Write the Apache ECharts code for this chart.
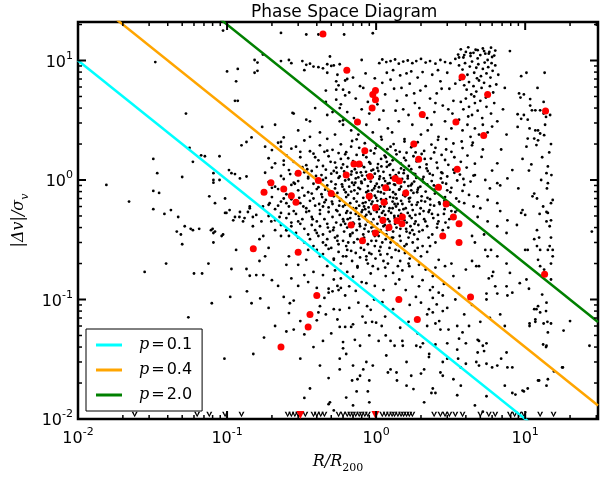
<!DOCTYPE html>
<html><head><meta charset="utf-8">
<script src="https://cdn.jsdelivr.net/npm/echarts@6/dist/echarts.min.js"></script>
<style>html,body{margin:0;padding:0;background:#fff}#c{width:602px;height:479px}</style>
</head><body><div id="c"></div>
<script>
const titleText = 'Phase Space Diagram';
const xName = 'R/R';
const xNameSub = '200';
const xRange = [0.01, 30.8];
const yRange = [0.01, 21];
const majorTicks = [0.01, 0.1, 1, 10];
const pValues = [0.1, 0.4, 2.0];
const pLabels = ['p=0.1', 'p=0.4', 'p=2.0'];

const blackLeft = [[0.033,9.7],[0.053,3.6],[0.056,1.86],[0.071,1.58],[0.059,1.42],[0.089,1.58],[0.032,1.5],[0.034,1.14],[0.05,1.06],[0.081,1.0],[0.081,0.95],[0.0155,0.91],[0.032,0.81],[0.035,0.78],[0.022,0.66],[0.032,0.57],[0.038,0.52],[0.042,0.56],[0.047,0.49],[0.052,0.41],[0.057,0.39],[0.059,0.38],[0.065,0.39],[0.046,0.37],[0.049,0.35],[0.05,0.29],[0.08,0.39],[0.081,0.36],[0.092,0.34],[0.081,0.3],[0.075,0.2],[0.039,0.2],[0.028,0.17],[0.06,0.165],[0.068,0.165],[0.079,0.093],[0.055,0.071],[0.096,0.032],[0.094,17.8],[0.097,0.53],[0.104,0.56],[0.11,0.46],[0.121,0.49],[0.131,0.48],[0.138,0.54],[0.149,0.49],[0.142,0.58],[0.157,0.51],[0.174,0.6],[0.193,0.64],[0.067,1.61],[0.081,1.14],[0.089,1.0],[0.107,1.14],[0.122,1.03],[0.135,1.07],[0.076,0.73],[0.083,0.64],[0.097,0.7],[0.099,0.53],[0.113,0.49],[0.122,0.54],[0.142,0.6],[0.078,0.38],[0.083,0.37],[0.094,0.35],[0.128,0.45],[0.149,0.41],[0.17,0.45],[0.175,0.34],[0.198,0.45],[0.21,0.38],[0.225,0.49],[0.23,0.34],[0.25,0.38],[0.26,0.34],[0.115,0.26],[0.165,0.32],[0.19,0.27],[0.18,0.23],[0.165,0.21],[0.135,0.18],[0.107,0.18],[0.157,0.16],[0.142,0.158],[0.175,0.16],[0.26,0.23],[0.25,0.195],[0.3,0.195],[0.34,0.215],[0.103,1.21],[0.113,1.12]];

const blackUpperLeft = [[0.1,8.1],[0.118,8.5],[0.153,7.9],[0.16,8.2],[0.153,10.1],[0.16,9.6],[0.174,11.2],[0.115,6.7],[0.113,4.6],[0.118,4.6],[0.275,3.64],[0.172,2.78],[0.23,17],[0.34,16.5],[0.41,16.5],[0.61,16.5],[0.95,16.9],[0.23,9.9],[0.26,10.1],[0.27,9.5],[0.32,9.9],[0.34,9.2],[0.33,8.3],[0.36,9.4],[0.38,8.9],[0.41,8.8],[0.44,8.6],[0.47,9.3],[0.5,9.0],[0.49,10.8],[0.47,7.9],[0.52,9.1],[0.54,6.7],[0.56,6.2],[0.6,5.7],[0.64,7.0],[0.54,5.7],[0.62,5.1],[0.46,5.6],[0.46,4.5],[0.54,4.7],[0.57,4.0],[0.51,3.7],[0.39,4.0],[0.28,3.6],[0.34,3.2],[0.36,3.1],[0.47,3.5],[0.6,3.16],[0.24,2.27],[0.23,2.08],[0.135,2.08],[0.125,1.95],[0.146,2.27],[0.18,1.9],[0.23,1.9],[0.29,1.9],[0.36,2.3],[0.42,2.5],[0.3,2.6],[0.21,2.9]];

const blackCore = [
[0.22,2.05],[0.27,1.83],[0.33,2.14],[0.36,1.74],[0.42,1.95],[0.47,2.21],[0.51,1.79],[0.58,1.99],[0.63,1.71],[0.69,2.12],[0.77,1.86],[0.84,2.03],[0.92,1.76],[1.01,1.94],[1.09,2.18],[1.19,1.81],[1.31,2.0],[1.44,1.72],[1.55,2.1],[1.72,1.88],[1.9,2.07],[2.1,1.75],[2.35,1.98],[2.6,2.17],[2.95,1.8],[3.3,2.02],[3.8,1.85],[4.4,1.95],[0.2,1.78],[0.45,1.72],[0.74,2.19],[1.25,1.9],
[0.19,1.52],[0.21,1.38],[0.25,1.61],[0.28,1.42],[0.31,1.55],[0.34,1.33],[0.38,1.66],[0.41,1.46],[0.44,1.31],[0.48,1.58],[0.53,1.4],[0.56,1.68],[0.6,1.35],[0.65,1.52],[0.7,1.44],[0.74,1.62],[0.8,1.32],[0.86,1.55],[0.9,1.41],[0.97,1.67],[1.03,1.36],[1.08,1.5],[1.14,1.6],[1.22,1.33],[1.29,1.46],[1.37,1.64],[1.46,1.38],[1.54,1.53],[1.66,1.31],[1.78,1.58],[1.87,1.43],[2.02,1.65],[2.18,1.35],[2.33,1.51],[2.55,1.4],[2.75,1.62],[3.05,1.34],[3.35,1.55],[3.7,1.42],[4.1,1.6],[4.6,1.37],[0.24,1.34],[0.62,1.64],[1.18,1.42],[1.6,1.69],[2.45,1.7],
[0.18,1.15],[0.2,1.27],[0.23,1.08],[0.26,1.21],[0.29,1.12],[0.32,1.28],[0.35,1.06],[0.37,1.19],[0.4,1.29],[0.43,1.1],[0.46,1.22],[0.5,1.13],[0.54,1.27],[0.57,1.07],[0.61,1.18],[0.64,1.29],[0.68,1.11],[0.72,1.23],[0.76,1.05],[0.79,1.16],[0.83,1.28],[0.87,1.09],[0.93,1.2],[0.98,1.13],[1.02,1.26],[1.06,1.07],[1.12,1.17],[1.18,1.29],[1.24,1.1],[1.3,1.21],[1.38,1.06],[1.47,1.25],[1.53,1.14],[1.63,1.08],[1.72,1.23],[1.83,1.12],[1.96,1.28],[2.08,1.06],[2.22,1.19],[2.4,1.1],[2.58,1.26],[2.78,1.14],[3.0,1.07],[3.3,1.22],[3.65,1.11],[4.05,1.27],[4.5,1.09],[0.33,1.16],[0.52,1.19],[0.74,1.15],[0.95,1.06],[1.42,1.15],
[0.19,0.96],[0.21,0.88],[0.24,1.02],[0.27,0.91],[0.3,0.98],[0.32,0.86],[0.35,1.03],[0.38,0.93],[0.41,0.87],[0.44,1.0],[0.47,0.9],[0.5,0.97],[0.53,0.85],[0.56,1.04],[0.59,0.92],[0.62,0.99],[0.66,0.88],[0.69,0.95],[0.73,1.03],[0.76,0.86],[0.8,0.94],[0.84,1.01],[0.88,0.89],[0.92,0.97],[0.97,0.85],[1.01,0.93],[1.05,1.02],[1.1,0.9],[1.15,0.98],[1.2,0.87],[1.26,1.04],[1.32,0.92],[1.39,0.99],[1.47,0.88],[1.55,0.96],[1.63,1.03],[1.71,0.9],[1.8,0.97],[1.92,0.86],[2.05,1.01],[2.2,0.92],[2.36,0.98],[2.52,0.88],[2.72,1.03],[2.95,0.93],[3.2,0.86],[3.5,0.99],[3.9,0.91],[4.3,0.97],[0.28,0.95],[0.46,1.04],[0.71,0.91],[1.23,0.94],[1.86,1.04],
[0.18,0.8],[0.2,0.72],[0.22,0.84],[0.25,0.76],[0.27,0.69],[0.3,0.82],[0.33,0.74],[0.35,0.79],[0.38,0.7],[0.4,0.84],[0.43,0.76],[0.46,0.68],[0.48,0.81],[0.52,0.73],[0.55,0.78],[0.58,0.69],[0.61,0.83],[0.65,0.75],[0.68,0.8],[0.71,0.7],[0.75,0.77],[0.78,0.84],[0.82,0.71],[0.86,0.79],[0.9,0.68],[0.94,0.82],[0.98,0.74],[1.03,0.8],[1.08,0.69],[1.13,0.77],[1.18,0.83],[1.24,0.72],[1.3,0.79],[1.37,0.7],[1.44,0.84],[1.52,0.75],[1.6,0.81],[1.69,0.71],[1.78,0.78],[1.9,0.83],[2.02,0.73],[2.15,0.8],[2.3,0.69],[2.48,0.77],[2.68,0.84],[2.9,0.72],[3.15,0.79],[3.45,0.7],[3.8,0.81],[4.2,0.75],[0.24,0.7],[0.37,0.77],[0.63,0.72],[0.92,0.76],[1.35,0.76],[1.72,0.82],
[0.19,0.62],[0.21,0.57],[0.23,0.66],[0.26,0.6],[0.28,0.55],[0.31,0.64],[0.34,0.58],[0.36,0.67],[0.39,0.61],[0.42,0.56],[0.45,0.65],[0.48,0.59],[0.51,0.63],[0.54,0.56],[0.57,0.67],[0.6,0.6],[0.64,0.55],[0.67,0.64],[0.7,0.58],[0.74,0.66],[0.77,0.61],[0.81,0.56],[0.85,0.65],[0.89,0.59],[0.93,0.63],[0.97,0.56],[1.02,0.67],[1.07,0.6],[1.12,0.55],[1.17,0.64],[1.23,0.58],[1.29,0.66],[1.36,0.6],[1.43,0.56],[1.5,0.63],[1.58,0.58],[1.67,0.66],[1.76,0.56],[1.87,0.62],[1.99,0.58],[2.13,0.66],[2.28,0.56],[2.45,0.61],[2.65,0.65],[2.88,0.57],[3.15,0.62],[3.5,0.56],[3.9,0.64],[0.25,0.64],[0.44,0.6],[0.62,0.62],[0.83,0.6],[1.04,0.57],[1.33,0.63],
[0.19,0.5],[0.21,0.46],[0.23,0.53],[0.25,0.48],[0.27,0.44],[0.29,0.52],[0.32,0.47],[0.34,0.54],[0.37,0.49],[0.4,0.45],[0.42,0.52],[0.45,0.47],[0.48,0.54],[0.51,0.49],[0.54,0.44],[0.57,0.51],[0.6,0.47],[0.63,0.53],[0.67,0.48],[0.7,0.44],[0.73,0.52],[0.77,0.47],[0.8,0.54],[0.84,0.49],[0.88,0.45],[0.92,0.52],[0.96,0.47],[1.01,0.54],[1.05,0.49],[1.1,0.44],[1.15,0.51],[1.2,0.47],[1.26,0.53],[1.33,0.48],[1.4,0.44],[1.47,0.52],[1.55,0.46],[1.63,0.53],[1.73,0.48],[1.84,0.45],[1.96,0.52],[2.1,0.47],[2.25,0.54],[2.42,0.48],[2.62,0.45],[2.85,0.52],[3.1,0.47],[3.4,0.54],[0.3,0.45],[0.55,0.55],[0.86,0.51],[1.23,0.45],[1.68,0.5],
[0.23,0.42],[0.25,0.38],[0.27,0.41],[0.29,0.36],[0.31,0.43],[0.33,0.39],[0.35,0.35],[0.37,0.42],[0.39,0.38],[0.42,0.41],[0.44,0.35],[0.47,0.43],[0.49,0.37],[0.52,0.4],[0.55,0.34],[0.58,0.42],[0.61,0.37],[0.64,0.4],[0.67,0.35],[0.71,0.43],[0.74,0.38],[0.78,0.41],[0.82,0.35],[0.85,0.42],[0.89,0.37],[0.93,0.4],[0.98,0.34],[1.02,0.43],[1.07,0.38],[1.12,0.41],[1.17,0.35],[1.24,0.42],[1.3,0.37],[1.37,0.4],[1.44,0.34],[1.52,0.43],[1.6,0.37],[1.7,0.41],[1.8,0.35],[1.92,0.42],[2.05,0.38],[2.2,0.41],[2.38,0.35],[2.58,0.43],[2.8,0.38],[3.05,0.4],[0.4,0.36],[0.62,0.43],[0.95,0.37],[1.34,0.43],[1.75,0.38],
[0.3,0.33],[0.33,0.3],[0.36,0.32],[0.38,0.28],[0.41,0.34],[0.44,0.3],[0.47,0.32],[0.5,0.27],[0.53,0.33],[0.56,0.29],[0.6,0.31],[0.63,0.28],[0.67,0.34],[0.71,0.3],[0.75,0.32],[0.79,0.27],[0.83,0.33],[0.88,0.29],[0.93,0.31],[0.98,0.28],[1.04,0.34],[1.1,0.3],[1.16,0.32],[1.23,0.27],[1.3,0.33],[1.38,0.29],[1.46,0.31],[1.55,0.28],[1.65,0.33],[1.76,0.3],[1.9,0.32],[2.05,0.28],[2.25,0.33],[2.5,0.3],[0.65,0.3],[1.0,0.31],
[0.4,0.26],[0.44,0.24],[0.48,0.265],[0.52,0.22],[0.56,0.25],[0.6,0.23],[0.64,0.26],[0.69,0.21],[0.73,0.245],[0.78,0.225],[0.83,0.26],[0.88,0.2],[0.93,0.24],[0.99,0.22],[1.05,0.255],[1.12,0.21],[1.19,0.24],[1.27,0.225],[1.35,0.26],[1.45,0.21],[1.56,0.245],[1.68,0.22],[1.82,0.255],[2.0,0.23],[2.2,0.25],[0.58,0.2],[0.75,0.19],[0.95,0.19],[1.15,0.185],[1.4,0.19],[1.65,0.2],[0.86,0.23]];

const blackCoreExtra = [[0.265,1.12],[0.305,0.71],[0.355,0.55],[0.395,1.08],[0.415,0.63],[0.455,0.83],[0.495,1.42],[0.515,0.38],[0.535,0.92],[0.565,0.61],[0.585,1.26],[0.605,0.45],[0.625,0.79],[0.655,1.01],[0.675,0.53],[0.695,0.36],[0.715,0.82],[0.735,0.58],[0.755,1.31],[0.775,0.43],[0.795,0.97],[0.815,0.64],[0.835,0.39],[0.855,1.17],[0.875,0.74],[0.895,0.54],[0.915,1.37],[0.945,0.66],[0.965,0.41],[0.985,0.89],[1.015,0.61],[1.035,1.19],[1.055,0.37],[1.075,0.79],[1.095,0.53],[1.125,1.03],[1.145,0.42],[1.165,0.69],[1.195,0.93],[1.215,0.55],[1.245,1.36],[1.275,0.33],[1.305,0.71],[1.325,0.5],[1.355,1.1],[1.395,0.63],[1.425,0.83],[1.455,0.39],[1.495,1.02],[1.525,0.57],[1.565,0.73],[1.605,0.44],[1.645,0.89],[1.685,0.36],[1.735,0.62],[1.785,1.13],[1.835,0.51],[1.885,0.79],[1.945,0.37],[2.01,0.67],[2.07,0.96],[2.14,0.45],[2.21,0.71],[2.29,1.13],[2.37,0.52],[2.46,0.83],[2.56,0.4],[2.67,0.63],[2.79,0.95],[2.92,0.44],[0.285,0.93],[0.325,0.6],[0.345,1.23],[0.375,0.47],[0.435,0.72],[0.475,0.4],[0.505,0.66],[0.545,1.15],[0.595,0.88],[0.645,0.47],[0.685,1.18],[0.725,0.95],[0.765,0.5],[0.805,1.09],[0.845,0.57],[0.885,0.81],[0.925,0.44],[0.955,1.22],[1.0,0.71],[1.045,0.87],[1.085,1.3],[1.135,0.6],[1.185,0.38],[1.23,0.83],[1.29,0.58],[1.34,0.91],[1.41,0.5],[1.47,0.67],[1.54,1.21],[1.59,0.39],[1.66,0.7],[1.74,0.93],[1.81,0.43],[1.9,0.65],[1.98,0.88],[2.08,0.55],[2.18,1.25],[2.31,0.62],[2.44,0.9],[2.6,0.51],[2.74,1.16],[2.87,0.67],[3.0,0.82],[3.2,0.55],[3.35,1.15],[3.6,0.66],[3.85,1.02],[0.2,0.86],[0.22,0.61],[0.24,1.45],[0.26,0.52],[0.31,1.72],[0.39,1.55],[0.47,1.76],[0.58,1.5],[0.68,1.9],[0.82,1.62],[0.99,1.84],[1.16,1.55],[1.35,1.77],[1.58,1.46],[1.84,1.7],[2.12,1.5],[2.5,1.86],[2.9,1.47],[3.2,1.72],[0.35,0.26],[0.46,0.285],[0.55,0.31],[0.68,0.255],[0.8,0.3],[0.9,0.245],[1.07,0.275],[1.25,0.3],[1.42,0.255],[1.6,0.29],[1.9,0.27],[2.3,0.28]];

const blackUpper = [[0.57,9.3],[0.8,10.1],[1.05,9.5],[1.1,10.2],[1.17,9.7],[1.25,9.9],[1.34,10.2],[1.42,9.4],[1.52,9.8],[1.63,10.0],[1.75,9.5],[1.86,9.9],[2.0,10.3],[2.15,9.6],[2.3,9.9],[2.5,9.4],[2.7,10.1],[2.9,9.7],[3.15,9.5],[3.4,10.3],[3.6,10.6],[3.9,11.1],[4.3,11.5],[4.8,12.2],[5.3,12.0],[5.9,12.8],
[0.55,7.6],[0.62,6.8],[0.7,7.2],[0.78,6.1],[0.85,7.8],[0.66,5.4],[0.73,4.8],[0.82,5.9],[0.58,4.3],[0.88,4.5],[0.64,3.7],[0.71,3.3],[0.8,3.9],[0.9,3.6],[0.6,2.9],[0.68,2.6],[0.76,2.4],[0.86,2.9],[0.95,2.5],[1.05,3.2],[1.1,6.5],[1.15,5.2],[1.02,4.3],[1.12,3.8],[1.2,2.7],[1.08,2.3],[0.98,7.1],[1.18,7.9],[0.53,2.4],[0.57,3.1],
[1.25,6.9],[1.32,5.8],[1.38,4.6],[1.45,7.5],[1.52,3.9],[1.6,5.1],[1.68,6.4],[1.75,2.9],[1.82,4.4],[1.9,7.2],[1.98,5.6],[2.08,3.4],[2.15,6.1],[2.22,2.6],[2.3,4.8],[2.38,7.6],[2.46,3.7],[2.55,5.3],[2.62,2.3],[2.7,6.7],[2.8,4.2],[2.9,3.1],[3.0,7.9],[3.1,5.8],[3.2,2.7],[3.3,4.6],[3.4,6.4],[1.28,2.5],[1.42,3.1],[1.55,2.2],[1.65,3.5],[1.72,8.1],[2.0,2.4],[2.35,2.9],[2.6,8.3],[2.95,2.2],[3.25,3.6],[1.3,8.3],[1.6,7.8],[2.05,8.0],[1.48,5.9],[2.5,4.4],[2.75,5.8],[3.05,3.9],[1.95,4.0],[2.2,3.3],[1.35,3.8],[1.8,5.3],
[3.55,11.2],[3.7,12.4],[3.85,10.6],[4.0,11.8],[4.15,12.9],[4.3,10.9],[4.5,11.6],[4.65,12.3],[4.8,10.4],[5.0,11.1],[5.2,12.6],[5.4,11.4],[5.6,10.1],[5.75,11.8],[6.0,10.7],[6.2,11.0],[6.3,12.1],[5.7,11.4],[3.6,9.1],[3.8,8.4],[3.95,9.5],[4.1,7.6],[4.25,8.9],[4.4,9.8],[4.55,7.9],[4.7,8.7],[4.85,9.3],[5.05,7.4],[5.2,8.5],[5.35,9.6],[5.5,7.8],[5.65,8.8],[5.85,7.2],[6.05,8.2],[6.3,9.1],[6.6,7.6],[3.65,6.9],[3.9,6.2],[4.05,5.7],[4.2,6.6],[4.35,5.2],[4.5,6.1],[4.7,5.5],[4.9,6.8],[5.1,5.9],[5.3,6.5],[5.45,4.9],[5.8,6.1],[6.1,5.4],[6.4,6.3],[3.7,4.5],[3.85,3.9],[4.0,4.8],[4.2,4.1],[4.4,3.5],[4.6,4.4],[4.8,3.8],[5.0,4.6],[5.15,3.3],[5.5,4.1],[5.9,3.6],[6.2,4.4],[3.6,3.2],[3.8,2.6],[4.1,2.9],[4.3,2.3],[4.6,2.7],[4.9,2.4],[5.2,2.9],[5.6,2.5],[6.0,2.8],[6.5,3.1],[3.75,2.1],[4.45,2.05],[4.15,3.4],[4.55,5.0],[3.9,7.3],[4.75,7.1],[5.95,9.5],[7.9,12.0],[7.1,3.9],[7.3,5.9]];

const blackRight = [[9.4,7.4],[10.2,7.9],[9.1,5.3],[9.8,5.2],[9.3,4.9],[10.8,4.76],[10.8,4.2],[8.9,3.55],[9.8,3.5],[9.4,3.25],[10.4,3.2],[11.1,3.83],[11.7,3.83],[12.6,3.83],[13.3,3.6],[13.8,3.37],[8.9,2.78],[10.7,2.7],[11.7,2.6],[12.2,2.6],[12.6,2.45],[13.4,2.37],[12.2,2.15],[11.5,2.22],[10.4,2.22],[11.9,1.96],[10.2,1.9],[10.6,1.2],[13.9,1.14],[14.2,0.94],[11.5,0.77],[11.2,0.73],[12.0,0.7],[15.3,0.68],[14.9,0.64],[13.9,0.54],[14.2,0.53],[14.9,0.46],[13.9,0.45],[14.6,0.41],[12.0,0.38],[11.5,0.32],[12.4,0.33],[14.9,0.33],[14.6,0.28],[14.2,0.26],[15.3,0.26],[15.3,0.23],[14.9,0.2],[12.6,0.26],[12.0,0.28],[10.4,0.26],[10.0,0.26],[12.2,0.215],[12.6,0.19],[13.4,0.178],[14.9,0.147],[10.2,0.147],[9.4,0.53],[10.0,0.51],[13.0,1.55],[14.5,1.7],[9.6,1.5],[11.0,1.35],[12.8,1.0],[14.0,0.85],[13.2,0.6],[12.5,0.52],[9.0,0.85],[8.8,0.42],[13.6,2.9],[14.2,1.3],[15.0,1.1],[13.5,7.9],[12.1,5.9],[14.9,2.0],[14.7,3.5],[13.3,4.5],[28,0.37]];

const blackMid = [[5.1,1.56],[6.5,1.38],[8.2,1.21],[5.4,1.0],[6.5,0.94],[7.6,1.03],[4.8,0.73],[5.6,0.68],[6.5,0.64],[9.6,0.56],[4.8,0.49],[5.6,0.45],[6.5,0.41],[7.5,0.36],[4.4,0.34],[4.6,0.3],[5.4,0.26],[5.9,0.26],[7.6,0.46],[7.9,0.167],[7.5,0.2],[6.5,0.23],[5.2,1.8],[6.0,1.2],[5.8,0.85],[4.6,1.1],[5.0,0.58],[4.5,0.6],[6.8,0.55],[5.3,0.35],[4.9,0.19],[5.7,0.15],[6.1,0.17],[4.4,0.21],[6.9,1.8],[7.5,2.4],[6.8,0.9]];

const blackLower = [[0.136,0.117],[0.105,0.105],[0.167,0.102],[0.146,0.093],[0.177,0.048],[0.264,0.093],[0.28,0.098],[0.26,0.077],[0.31,0.066],[0.28,0.056],[0.25,0.054],[0.33,0.051],[0.31,0.032],[0.36,0.018],[0.33,0.015],[0.48,0.0133],[0.52,0.0118],[0.44,0.045],[0.4,0.067],[0.41,0.078],[0.42,0.088],[0.45,0.103],[0.48,0.114],[0.51,0.117],[0.48,0.123],[0.55,0.13],[0.56,0.12],[0.58,0.125],[0.52,0.083],[0.57,0.082],[0.57,0.059],[0.62,0.059],[0.68,0.059],[0.6,0.044],[0.6,0.039],[0.57,0.032],[0.57,0.026],[0.72,0.046],[0.9,0.05],[1.04,0.045],[0.81,0.072],[0.85,0.064],[0.94,0.065],[0.87,0.088],[0.97,0.1],[0.92,0.082],[0.69,0.021],[0.74,0.017],[0.7,0.013],[0.86,0.03],[0.82,0.026],[0.95,0.028],[0.78,0.023],[0.9,0.021],[0.88,0.017],[1.25,0.026],[1.17,0.034],
[0.49,0.0138],[0.63,0.0151],[0.7,0.028],[0.75,0.0215],[0.9,0.0138],[1.0,0.064],[1.09,0.06],[1.16,0.05],[1.33,0.041],[1.37,0.0245],[1.38,0.021],[1.2,0.0245],[1.51,0.041],[2.06,0.043],[2.0,0.024],[2.1,0.026],[1.6,0.019],[1.78,0.0178],[2.27,0.035],[2.5,0.0165],[2.7,0.0245],[3.06,0.056],[3.5,0.06],[3.8,0.053],[4.0,0.043],[3.55,0.032],[3.7,0.019],[4.8,0.046],[5.2,0.041],[4.7,0.03],[5.5,0.029],[6.5,0.028],[7.6,0.027],[5.5,0.0155],[8.2,0.0165],[8.6,0.016],[7.5,0.036],
[1.94,0.129],[2.4,0.127],[2.63,0.114],[2.8,0.108],[2.4,0.103],[2.0,0.094],[2.55,0.091],[2.26,0.083],[2.8,0.08],[2.4,0.078],[2.65,0.066],[2.5,0.063],[2.7,0.056],[2.2,0.06],[1.5,0.045],[1.86,0.041],[1.98,0.04],[2.5,0.042],[3.0,0.043],[3.5,0.038],[3.6,0.047],[4.9,0.045],[5.5,0.043],[5.3,0.037],[4.8,0.036],[6.9,0.032],[4.9,0.028],[8.2,0.027],[6.0,0.027],[4.0,0.029],[3.7,0.027],[3.0,0.032],[2.8,0.03],[2.26,0.033],[1.72,0.023],[2.8,0.023],[3.3,0.0215],[3.5,0.0158],[2.4,0.018],[2.35,0.0165],[2.1,0.0138],[4.6,0.013],[7.3,0.019],[9.8,0.017],[5.2,0.0115],
[0.42,0.23],[0.52,0.215],[0.63,0.23],[0.86,0.215],[1.07,0.237],[1.16,0.157],[1.3,0.167],[1.43,0.147],[1.67,0.19],[1.94,0.195],[2.15,0.178],[2.4,0.157],[2.63,0.215],[2.9,0.19],[3.3,0.157],[4.0,0.178],[4.7,0.19],[5.6,0.23],[6.0,0.157],[7.5,0.129],[8.2,0.114],[9.2,0.137],[0.52,0.147],[0.66,0.129],[0.86,0.137],
[0.35,0.14],[0.38,0.17],[0.44,0.16],[0.47,0.19],[0.53,0.175],[0.58,0.15],[0.64,0.17],[0.7,0.155],[0.75,0.185],[0.8,0.14],[0.92,0.165],[0.98,0.13],[1.03,0.18],[1.12,0.12],[1.2,0.2],[1.35,0.135],[1.5,0.175],[1.58,0.12],[1.75,0.155],[1.85,0.105],[2.05,0.145],[2.3,0.12],[2.5,0.185],[2.85,0.135],[3.2,0.2],[3.6,0.125],[0.4,0.125],[0.62,0.108],[0.73,0.118],[1.1,0.095],[1.3,0.083],[1.68,0.09],[0.3,0.13],[0.33,0.16],[0.27,0.15],[0.22,0.13],[0.2,0.145],[0.24,0.105],
[0.46,0.075],[0.55,0.068],[0.66,0.085],[0.76,0.094],[0.7,0.062],[0.5,0.052],[0.38,0.04],[0.42,0.028],[0.48,0.022],[0.63,0.035],[0.78,0.041],[1.15,0.072],[1.45,0.058],[1.65,0.065],[1.25,0.045],[1.6,0.03],[1.9,0.052],[2.2,0.075],[3.0,0.085],[3.4,0.1],[3.9,0.075],[4.4,0.09],[4.2,0.06],[5.0,0.065],[5.8,0.07],[6.8,0.075],[7.3,0.06],[5.5,0.1],[0.15,0.035],[0.21,0.06],[0.19,0.085],
[10.6,0.123],[13.0,0.11],[12.6,0.078],[11.9,0.083],[13.8,0.08],[10.7,0.063],[11.7,0.065],[13.3,0.063],[14.1,0.065],[14.9,0.063],[18.1,0.055],[20,0.066],[13.2,0.042],[13.8,0.04],[27,0.041],[17.7,0.027],[15.6,0.025],[12.4,0.021],[9.6,0.0173],[12.2,0.088],[11.7,0.068],[11.5,0.083],[10.7,0.06],[13.9,0.094],[14.2,0.053],[13.9,0.041],[14.2,0.0215],[12.2,0.021],[13.9,0.019],[10.4,0.018],[6.3,0.129],[5.5,0.112],[6.5,0.112],[7.6,0.108],[17.9,0.027]];

const redPoints = [[0.44,16.7],[0.636,8.3],[0.99,5.6],[0.95,5.2],[0.99,4.7],[0.94,4.0],[0.75,3.06],[3.77,7.26],[5.6,5.2],[13.7,3.78],[2.04,3.53],[3.43,3.06],[1.79,2.0],[5.27,2.36],[0.84,1.76],[1.93,1.49],[3.5,1.23],[0.71,1.36],[0.77,1.36],[0.63,1.1],[0.91,1.07],[1.34,1.03],[1.43,0.98],[1.16,0.86],[1.58,0.78],[2.62,0.87],[0.9,0.73],[0.3,1.14],[0.197,0.95],[0.177,0.79],[0.24,0.84],[0.27,0.74],[0.29,0.65],[0.5,0.77],[0.41,0.99],[1.13,0.65],[0.99,0.59],[1.38,0.455],[1.11,0.46],[1.22,0.4],[0.99,0.36],[0.68,0.42],[0.81,0.31],[0.15,0.266],[0.3,0.248],[2.95,0.63],[1.5,0.49],[1.49,0.43],[3.3,0.49],[3.6,0.43],[2.8,0.34],[3.6,0.3],[13.5,0.163],[0.4,0.108],[1.42,0.1],[4.3,0.105],[0.36,0.075],[0.35,0.059],[1.89,0.068],[0.23,0.04]];

const limitX = [0.024,0.063,0.076,0.097,0.125,0.255,0.27,0.285,0.3,0.335,0.38,0.4,0.425,0.45,0.56,0.6,0.64,0.67,0.7,0.73,0.77,0.8,0.84,0.88,1.1,1.16,1.22,1.28,1.33,1.4,1.47,1.53,1.6,1.67,1.75,2.45,2.7,2.9,3.1,3.4,3.8,5.0,5.7,6.3,7.9,8.5,9.1,9.8,12.6,15.5];
const redLimitX = [0.31, 0.99];

// minor tick values for a log axis (2..9 x 10^k) inside a range
function minorValues(range) {
  const out = [];
  for (let e = Math.floor(Math.log10(range[0])); e <= Math.ceil(Math.log10(range[1])); e++) {
    for (let m = 2; m <= 9; m++) {
      const v = m * Math.pow(10, e);
      if (v > range[0] && v < range[1]) out.push(v);
    }
  }
  return out;
}

function tickSeries(values, isX, len, width) {
  return {
    type: 'custom', coordinateSystem: 'cartesian2d', silent: true, z: 10, clip: false,
    data: values.map(v => isX ? [v, 1] : [1, v]),
    renderItem: function (params, api) {
      const cs = params.coordSys;
      const p = api.coord([api.value(0), api.value(1)]);
      const st = { stroke: '#000', lineWidth: width };
      if (isX) {
        const b = cs.y + cs.height, t = cs.y;
        return { type: 'group', children: [
          { type: 'line', shape: { x1: p[0], y1: b, x2: p[0], y2: b - len }, style: st },
          { type: 'line', shape: { x1: p[0], y1: t, x2: p[0], y2: t + len }, style: st }
        ]};
      } else {
        const l = cs.x, r = cs.x + cs.width;
        return { type: 'group', children: [
          { type: 'line', shape: { x1: l, y1: p[1], x2: l + len, y2: p[1] }, style: st },
          { type: 'line', shape: { x1: r, y1: p[1], x2: r - len, y2: p[1] }, style: st }
        ]};
      }
    }
  };
}

function powLabel(v) {
  const l = Math.log10(v);
  const e = Math.round(l);
  if (Math.abs(l - e) > 1e-6) return '';
  return '{b|10}{s|' + e + '}';
}
const labelRich = {
  b: { fontFamily: 'DejaVu Sans', fontSize: 16, color: '#000', verticalAlign: 'bottom', lineHeight: 20 },
  s: { fontFamily: 'DejaVu Sans', fontSize: 11, color: '#000', verticalAlign: 'top', lineHeight: 12 }
};

const blackAll = [].concat(blackLeft, blackUpperLeft, blackCore, blackCoreExtra, blackUpper, blackRight, blackMid, blackLower);
const lineColors = ['#00ffff', '#ffa500', '#008000'];

const chart = echarts.init(document.getElementById('c'), null, { renderer: 'canvas' });
const series = [
  { type: 'scatter', name: 'galaxies', data: blackAll, symbolSize: 2.8, itemStyle: { color: '#000', opacity: 1 }, silent: true, z: 2 },
  { type: 'scatter', name: 'limits', data: limitX.map(x => [x, yRange[0]]), symbol: 'path://M0,0L2.8,0L5,6L7.2,0L10,0L5,10Z', symbolSize: [6, 5.5], symbolOffset: [0, -4.5], itemStyle: { color: '#000', opacity: 1 }, silent: true, z: 2 }
];
pValues.forEach((p, i) => {
  series.push({
    type: 'line', name: pLabels[i], data: [[xRange[0], p / xRange[0]], [xRange[1], p / xRange[1]]],
    showSymbol: false, symbol: 'none', clip: true, z: 3,
    lineStyle: { color: lineColors[i], width: 2.5 }, itemStyle: { color: lineColors[i] }
  });
});
series.push({ type: 'scatter', name: 'members', data: redPoints, symbolSize: 7, itemStyle: { color: '#ff0000', opacity: 1 }, silent: true, z: 4 });
series.push({ type: 'scatter', name: 'memberLimits', data: redLimitX.map(x => [x, yRange[0]]), symbol: 'triangle', symbolRotate: 180, symbolSize: [8, 8], symbolOffset: [0, -4], itemStyle: { color: '#ff0000', opacity: 1 }, silent: true, z: 4 });
series.push(tickSeries(majorTicks, true, 8, 2));
series.push(tickSeries(minorValues(xRange), true, 4, 1.5));
series.push(tickSeries(majorTicks, false, 8, 2));
series.push(tickSeries(minorValues(yRange), false, 4, 1.5));

chart.setOption({
  animation: false,
  backgroundColor: '#fff',
  title: { text: titleText, left: 246, top: -1, textStyle: { fontFamily: 'DejaVu Sans', fontSize: 17, fontWeight: 'normal', color: '#000' } },
  grid: { left: 78, top: 22, width: 520, height: 399, show: true, borderColor: '#000', borderWidth: 2.5, backgroundColor: 'transparent' },
  legend: {
    data: pLabels, orient: 'vertical', left: 86, top: 329, icon: 'rect', itemWidth: 26, itemHeight: 3, itemGap: 9,
    borderColor: '#000', borderWidth: 1, padding: [8, 10, 8, 10], backgroundColor: '#fff',
    formatter: n => '{i|p}{e|=}{t|' + n.slice(2) + '}',
    textStyle: { padding: [0, 0, 0, 12], rich: {
      i: { fontFamily: 'DejaVu Serif', fontStyle: 'italic', fontSize: 16, color: '#000', lineHeight: 18 },
      e: { fontFamily: 'DejaVu Serif', fontSize: 16, color: '#000', padding: [0, 2, 0, 2], lineHeight: 18 },
      t: { fontFamily: 'DejaVu Sans', fontSize: 16, color: '#000', lineHeight: 18 } } }
  },
  xAxis: {
    type: 'log', logBase: 10, min: xRange[0], max: xRange[1],
    axisLine: { show: false }, axisTick: { show: false }, splitLine: { show: false }, minorTick: { show: false },
    axisLabel: { formatter: powLabel, rich: labelRich, margin: 8, showMinLabel: true, showMaxLabel: true, hideOverlap: false },
    name: '{i|' + xName + '}{s|' + xNameSub + '}', nameLocation: 'middle', nameGap: 35,
    nameTextStyle: { rich: {
      i: { fontFamily: 'DejaVu Serif', fontStyle: 'italic', fontSize: 16, color: '#000', verticalAlign: 'top', lineHeight: 20 },
      s: { fontFamily: 'DejaVu Serif', fontSize: 11, color: '#000', verticalAlign: 'bottom', lineHeight: 20 } } }
  },
  yAxis: {
    type: 'log', logBase: 10, min: yRange[0], max: yRange[1],
    axisLine: { show: false }, axisTick: { show: false }, splitLine: { show: false }, minorTick: { show: false },
    axisLabel: { formatter: powLabel, rich: labelRich, margin: 5, showMinLabel: true, showMaxLabel: true, hideOverlap: false },
    name: '{i||Δv|/σ}{s|v}', nameLocation: 'middle', nameGap: 46, nameRotate: 90,
    nameTextStyle: { rich: {
      i: { fontFamily: 'DejaVu Serif', fontStyle: 'italic', fontSize: 16, color: '#000', verticalAlign: 'top', lineHeight: 20 },
      s: { fontFamily: 'DejaVu Serif', fontStyle: 'italic', fontSize: 11, color: '#000', verticalAlign: 'bottom', lineHeight: 20 } } }
  },
  series: series
});
</script>
</body></html>
